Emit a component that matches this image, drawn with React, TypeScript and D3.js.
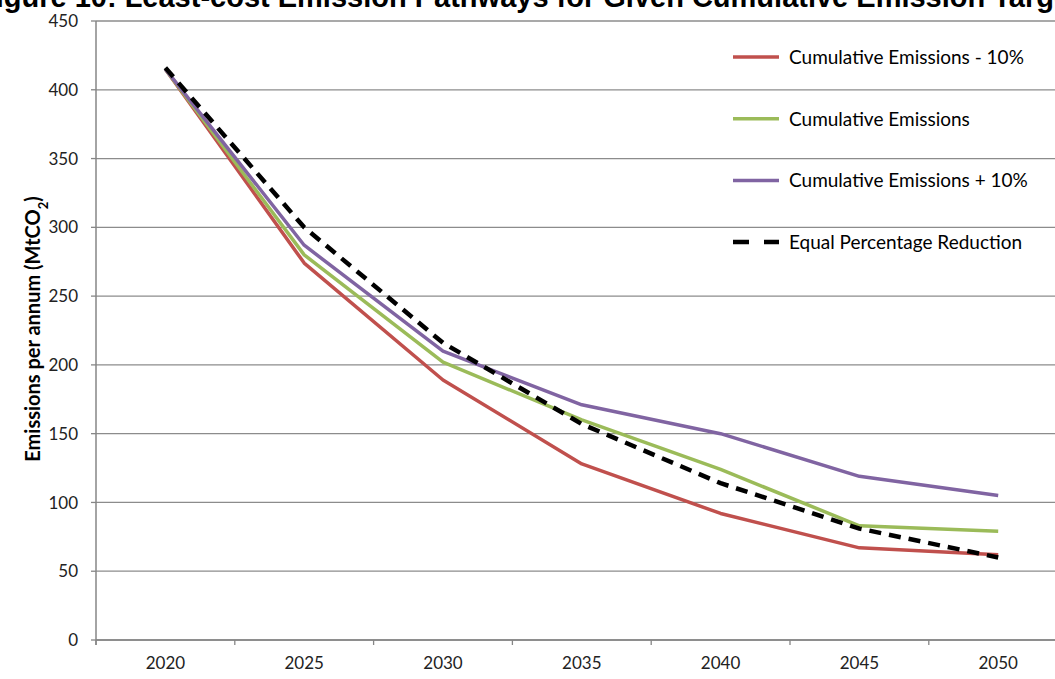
import React from "react";
import * as d3 from "d3";

const years = ["2020", "2025", "2030", "2035", "2040", "2045", "2050"];
const cumMinus10 = [415, 274, 189, 128, 92, 67, 62];
const cumBase = [415, 280, 202, 160, 124, 83, 79];
const cumPlus10 = [415, 287, 210, 171, 150, 119, 105];
const equalPct = [416, 300, 216, 157, 114, 81, 60];
const yTicks = [0, 50, 100, 150, 200, 250, 300, 350, 400, 450];

const seriesNames = [
  "Cumulative Emissions - 10%",
  "Cumulative Emissions",
  "Cumulative Emissions + 10%",
  "Equal Percentage Reduction",
];

const W = 1055;
const H = 679;

export default function App() {
  const x = d3.scaleBand().domain(years).range([96, 96 + 7 * 138.8]).padding(0);
  const y = d3.scaleLinear().domain([0, 450]).range([640, 21]);

  const line = d3
    .line<number>()
    .x((d, i) => (x(years[i]) as number) + x.bandwidth() / 2)
    .y(d => y(d));

  const series = [
    { name: seriesNames[0], values: cumMinus10, color: "#C0504D", dash: null },
    { name: seriesNames[1], values: cumBase, color: "#9BBB59", dash: null },
    { name: seriesNames[2], values: cumPlus10, color: "#8064A2", dash: null },
    { name: seriesNames[3], values: equalPct, color: "#000000", dash: "12,8" },
  ];

  const boundaries = d3.range(years.length + 1).map(i => 96 + i * x.bandwidth());
  const font = "Lato, 'Open Sans', sans-serif";

  return (
    <div style={{ position: "absolute", left: 0, top: 0 }}>
      <svg width={W} height={H} style={{ display: "block", background: "#fff" }}>
        {/* title, cut off at top like the source */}
        <text
          x={-22}
          y={7}
          fontFamily="'Liberation Sans', Arial, sans-serif"
          fontWeight="bold"
          fontSize={29}
          fill="#000"
        >
          Figure 10: Least-cost Emission Pathways for Given Cumulative Emission Targets
        </text>

        {/* gridlines */}
        {yTicks.map(t => (
          <line key={t} x1={96} x2={W} y1={y(t)} y2={y(t)} stroke="#8c8c8c" strokeWidth={1.3} />
        ))}

        {/* y axis */}
        <line x1={96} x2={96} y1={y(450)} y2={y(0) + 5} stroke="#868686" strokeWidth={1.5} />
        {yTicks.map(t => (
          <g key={"yt" + t}>
            <line x1={91} x2={96} y1={y(t)} y2={y(t)} stroke="#868686" strokeWidth={1.3} />
            <text x={78} y={y(t)} dy="0.36em" textAnchor="end" fontFamily={font} fontSize={17} fill="#222">
              {t}
            </text>
          </g>
        ))}

        {/* x axis */}
        <line x1={96} x2={W} y1={y(0)} y2={y(0)} stroke="#868686" strokeWidth={1.5} />
        {boundaries.map((b, i) => (
          <line key={"xt" + i} x1={b} x2={b} y1={y(0)} y2={y(0) + 5} stroke="#868686" strokeWidth={1.3} />
        ))}
        {years.map(yr => (
          <text
            key={yr}
            x={(x(yr) as number) + x.bandwidth() / 2}
            y={669}
            textAnchor="middle"
            fontFamily={font}
            fontSize={17}
            fill="#222"
          >
            {yr}
          </text>
        ))}

        {/* y axis title */}
        <text
          transform={`translate(40,329) rotate(-90)`}
          textAnchor="middle"
          fontFamily={font}
          fontWeight="bold"
          fontSize={20}
          fill="#000"
        >
          Emissions per annum (MtCO<tspan baselineShift="sub" fontSize={13}>2</tspan>)
        </text>

        {/* series */}
        {series.map(s => (
          <path
            key={s.name}
            d={line(s.values) || ""}
            fill="none"
            stroke={s.color}
            strokeWidth={s.dash ? 4.5 : 3.5}
            strokeDasharray={s.dash || undefined}
            strokeLinejoin="round"
          />
        ))}

        {/* legend */}
        {series.map((s, i) => {
          const ly = 57 + i * 61.7;
          return (
            <g key={"lg" + i}>
              <line
                x1={733}
                x2={779}
                y1={ly}
                y2={ly}
                stroke={s.color}
                strokeWidth={s.dash ? 4.5 : 3.5}
                strokeDasharray={s.dash ? "16,15" : undefined}
              />
              <text x={789} y={ly} dy="0.36em" fontFamily={font} fontSize={19} fill="#000">
                {s.name}
              </text>
            </g>
          );
        })}
      </svg>
    </div>
  );
}
